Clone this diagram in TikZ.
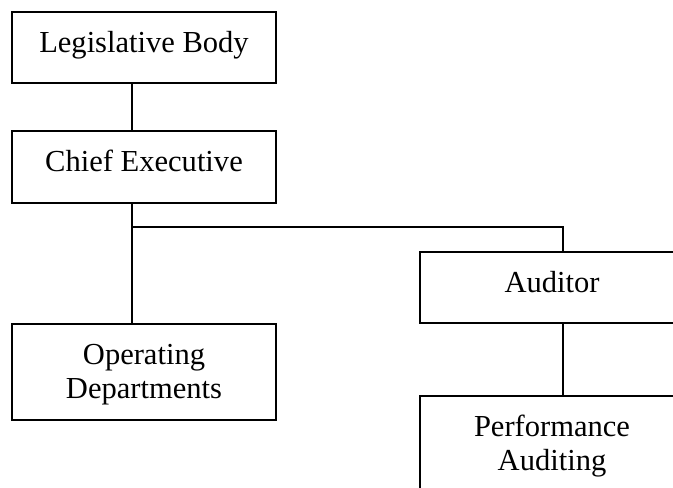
\documentclass[tikz,border=0pt]{standalone}
\usepackage{fontspec}
\setmainfont{Liberation Serif}
\begin{document}
\begin{tikzpicture}[x=0.75pt,y=-0.75pt,
  orgbox/.style={draw=black, line width=1.5pt, rectangle, inner sep=0pt, outer sep=0pt,
    minimum width=198pt, font=\fontsize{22.9}{25.5}\selectfont},
  oneline/.style={orgbox, minimum height=53.5pt, text height=18pt, text depth=10.875pt},
  twoline/.style={orgbox, minimum height=72pt, text height=18pt, text depth=30pt},
  link/.style={draw=black, line width=1.5pt}]
\useasboundingbox (0,0) rectangle (673,487);
\clip (0,0) rectangle (673,487);
\node[oneline] (leg) at (144,47.5) {Legislative Body};
\node[oneline] (chief) at (144,167) {Chief Executive};
\node[oneline] (aud) at (552,287.5) {Auditor};
\node[twoline] (ops) at (144,372) {\begin{tabular}[t]{@{}c@{}}Operating\\Departments\end{tabular}};
\node[twoline] (perf) at (552,444) {\begin{tabular}[t]{@{}c@{}}Performance\\Auditing\end{tabular}};
\coordinate (trunk) at (132,0);
\coordinate (branch) at (563,0);
\coordinate (split) at (132,227);
\draw[link] (leg.south -| trunk) -- (chief.north -| trunk);
\draw[link] (chief.south -| trunk) -- (ops.north -| trunk);
\draw[link] (split) -- (split -| branch) -- (aud.north -| branch);
\draw[link] (aud.south -| branch) -- (perf.north -| branch);
\end{tikzpicture}
\end{document}
